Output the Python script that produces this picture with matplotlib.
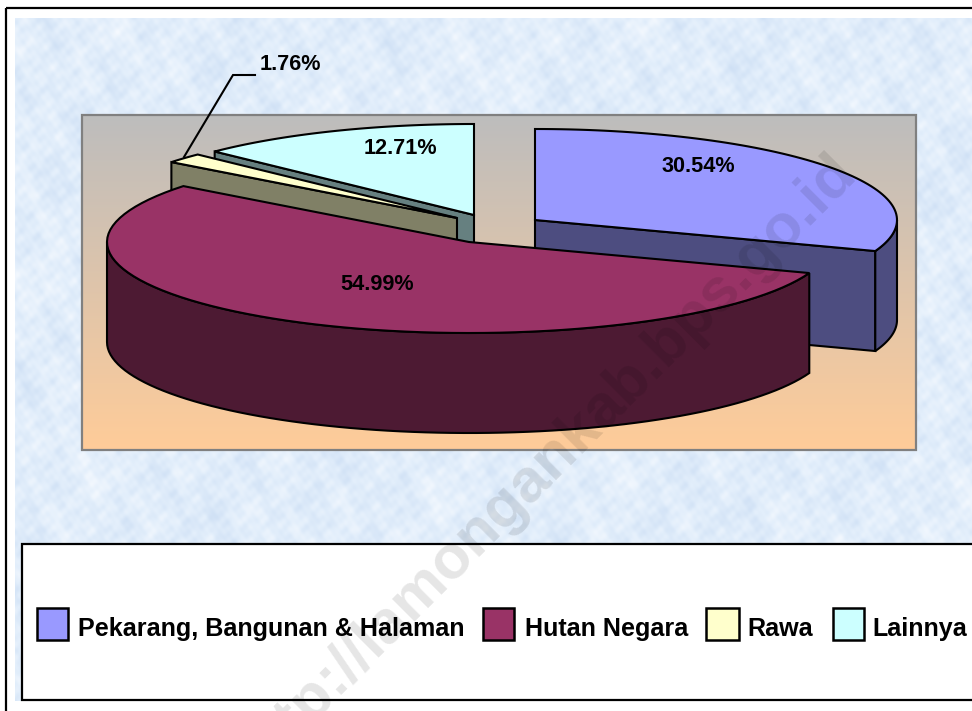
"""Exploded 3D-look pie of land use, with legend box and watermark."""
import numpy as np
import matplotlib
matplotlib.use("Agg")
import matplotlib.pyplot as plt
from matplotlib.colors import LinearSegmentedColormap, to_rgb
from matplotlib.patches import Polygon, Rectangle

categories = ["Pekarang, Bangunan & Halaman", "Hutan Negara", "Rawa", "Lainnya"]
shares = [30.54, 54.99, 1.76, 12.71]
colors = ["#9999FF", "#993366", "#FFFFCC", "#CCFFFF"]

# layout, in image pixels
apex_x = [535, 469, 457, 474]
apex_y = [220, 242, 218, 215]
label_x = [698, 377, 290, 400]
label_y = [167, 285, 64, 148]
swatch_x = [37, 483, 706, 833]
swatch_w = [31, 31, 33, 31]
legend_text_x = [78, 525, 747, 872]
rx, ry, depth = 362, 91, 100
lw = 1.5


def rim(i, t):
	t = np.radians(t)
	return apex_x[i] + rx * np.sin(t), apex_y[i] - ry * np.cos(t)


def dark(c):
	return tuple(0.5 * v for v in to_rgb(c))


def top_face(ax, i, t0, t1):
	ts = np.linspace(t0, t1, 80)
	xs, ys = rim(i, ts)
	pts = [(apex_x[i], apex_y[i])] + list(zip(xs, ys))
	ax.add_patch(Polygon(pts, closed=True, fc=colors[i], ec="black", lw=lw, joinstyle="miter"))


def cut_face(ax, i, t):
	x, y = rim(i, t)
	a = (apex_x[i], apex_y[i])
	pts = [a, (x, y), (x, y + depth), (a[0], a[1] + depth)]
	ax.add_patch(Polygon(pts, closed=True, fc=dark(colors[i]), ec="black", lw=lw, joinstyle="miter"))


def outer_face(ax, i, t0, t1):
	ts = np.linspace(t0, t1, 80)
	xs, ys = rim(i, ts)
	pts = list(zip(xs, ys)) + list(zip(xs[::-1], ys[::-1] + depth))
	ax.add_patch(Polygon(pts, closed=True, fc=dark(colors[i]), ec="black", lw=lw, joinstyle="miter"))


fig = plt.figure(figsize=(9.72, 7.11), dpi=100)
ax = fig.add_axes([0, 0, 1, 1])
ax.axis("off")

# outer frame
ax.plot([6, 6], [711, 8], color="black", lw=1.6, solid_capstyle="butt")
ax.plot([6, 972], [8, 8], color="black", lw=1.6, solid_capstyle="butt")

# pale marbled backdrop
yy, xx = np.mgrid[0:683, 0:957]
tex = np.zeros(xx.shape)
for fx, fy, amp in [(0.013, 0.029, 0.5), (-0.037, 0.011, 0.5), (0.071, 0.043, 0.7), (-0.059, 0.083, 0.7),
		(0.13, -0.047, 0.8), (0.097, 0.17, 0.8), (-0.21, 0.11, 0.8), (0.31, 0.23, 0.7), (0.19, -0.37, 0.7),
		(0.43, -0.13, 0.6), (-0.29, -0.53, 0.6), (0.61, 0.41, 0.5), (0.83, -0.59, 0.4)]:
	tex += amp * np.sin(fx * xx + fy * yy + 11 * fx + 5 * fy)
tex = (tex - tex.min()) / (tex.max() - tex.min())
tex_cmap = LinearSegmentedColormap.from_list("tex", ["#CCDEF4", "#E2EEFB", "#F8FBFF"])
ax.imshow(tex, cmap=tex_cmap, extent=(15, 972, 701, 18), aspect="auto", zorder=0)

# plot area gradient
grad = np.linspace(0, 1, 256).reshape(-1, 1)
grad_cmap = LinearSegmentedColormap.from_list("plotarea", ["#BDBDBD", "#FFCC99"])
ax.imshow(grad, cmap=grad_cmap, extent=(82, 916, 450, 115), aspect="auto", zorder=1)
ax.add_patch(Rectangle((82, 115), 834, 335, fc="none", ec="#808080", lw=1.6, zorder=2))
ax.set_xlim(0, 972)
ax.set_ylim(711, 0)

# slice angles, clockwise from 12 o'clock
edges = np.concatenate([[0], np.cumsum(shares)]) * 3.6 / (sum(shares) / 100)

# back slices first, maroon last as it sits in front
cut_face(ax, 3, edges[3])
top_face(ax, 3, edges[3], edges[4])
cut_face(ax, 2, edges[2])
top_face(ax, 2, edges[2], edges[3])
cut_face(ax, 0, edges[1])
outer_face(ax, 0, 90, edges[1])
top_face(ax, 0, edges[0], edges[1])
outer_face(ax, 1, edges[1], 270)
top_face(ax, 1, edges[1], edges[2])

# value labels
for x, y, v in zip(label_x, label_y, shares):
	ax.text(x, y, f"{v:.2f}%", ha="center", va="center", fontsize=15.6, fontweight="bold",
		family="Liberation Sans", color="black")
ax.plot([184, 233, 255], [157, 75, 75], color="black", lw=1.5, solid_joinstyle="miter")

# legend box
ax.add_patch(Rectangle((22, 544), 955, 156, fc="white", ec="black", lw=1.6, zorder=3))
for i, name in enumerate(categories):
	ax.add_patch(Rectangle((swatch_x[i], 608), swatch_w[i], 32, fc=colors[i], ec="black", lw=1.8, zorder=4))
	ax.text(legend_text_x[i], 629, name, ha="left", va="center", fontsize=18.1, fontweight="bold",
		family="Liberation Sans", color="black", zorder=4)

# watermark, the start of the address runs off the bottom of the image
ax.text(858, 174, "http://lamongankab.bps.go.id", rotation=45, rotation_mode="anchor", ha="right", va="baseline",
	fontsize=44, fontweight="bold", family="Liberation Sans", color="black", alpha=0.1, zorder=6, clip_on=True)

fig.savefig("out.png", dpi=100)
